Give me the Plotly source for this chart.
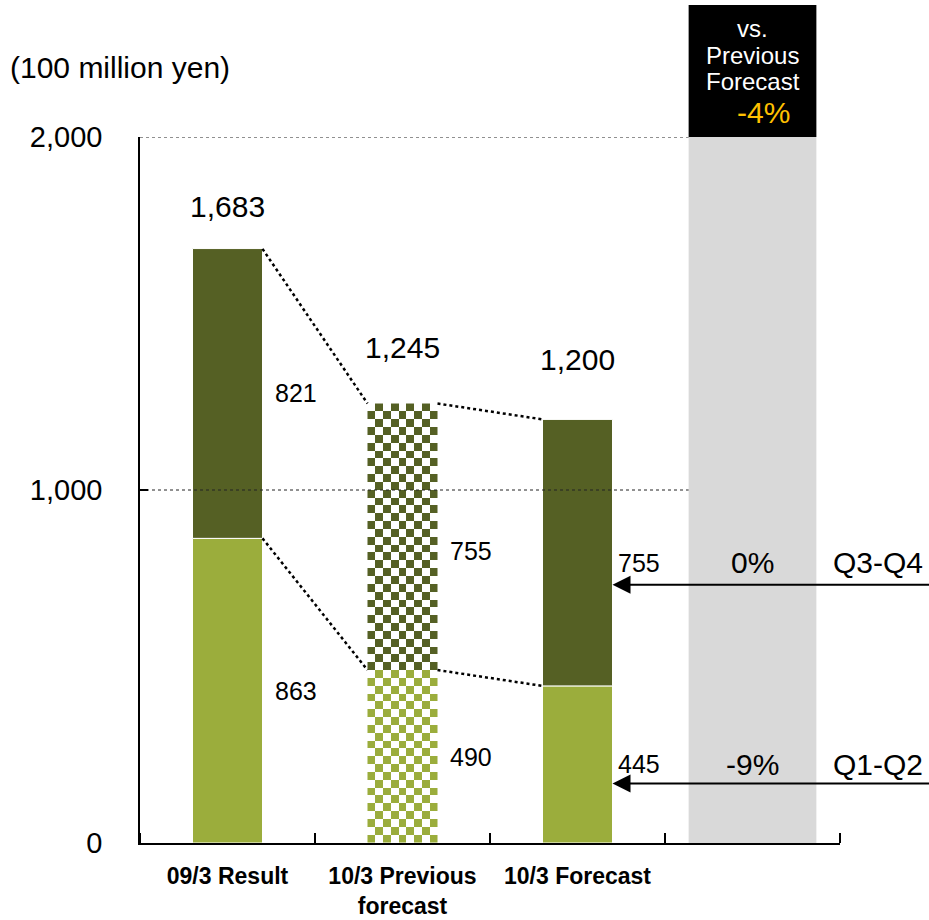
import numpy as np
import plotly.graph_objects as go

# ---------------- data ----------------
categories = ["09/3 Result", "10/3 Previous<br>forecast", "10/3 Forecast"]
q1q2 = [863, 490, 445]      # lower segment
q3q4 = [821, 755, 755]      # upper segment
totals = [1683, 1245, 1200]
y_ticks = [0, 1000, 2000]
y_max = 2000
unit_label = "(100 million yen)"
row_names = ["Q3-Q4", "Q1-Q2"]

prev_i, fc_i = 1, 2
chg_q12 = (q1q2[fc_i] - q1q2[prev_i]) / q1q2[prev_i] * 100
chg_q34 = (q3q4[fc_i] - q3q4[prev_i]) / q3q4[prev_i] * 100
chg_tot = (totals[fc_i] - totals[prev_i]) / totals[prev_i] * 100

DARK = "#556024"
LIGHT = "#9bad3c"
FONT = "Arial, Liberation Sans, sans-serif"
BW = 0.4          # bar width
GW = 0.73         # grey column width

fig = go.Figure()

# grid lines (dotted), stopping at grey column
for t in y_ticks[1:]:
    fig.add_trace(go.Scatter(x=[-0.5, 3 - GW / 2], y=[t, t], mode="lines",
                             line=dict(color="#222222", width=1, dash="dot"),
                             hoverinfo="skip", showlegend=False))

# grey comparison column
fig.add_trace(go.Bar(x=[3], y=[y_max], width=GW, marker_color="#d9d9d9",
                     marker_line_width=0, hoverinfo="skip", showlegend=False))

# solid bars (result and forecast)
solid = [0, 2]
fig.add_trace(go.Bar(x=solid, y=[q1q2[i] for i in solid], width=BW,
                     marker=dict(color=LIGHT, line=dict(color="white", width=1)),
                     showlegend=False, name="Q1-Q2"))
fig.add_trace(go.Bar(x=solid, y=[q3q4[i] for i in solid], base=[q1q2[i] for i in solid],
                     width=BW, marker=dict(color=DARK, line=dict(color="white", width=1)),
                     showlegend=False, name="Q3-Q4"))

# checkered bar for previous forecast (heatmap cells)
ncol = 9
cell_units = 22.2
n_low = int(round(q1q2[prev_i] / cell_units))
n_up = int(round(q3q4[prev_i] / cell_units))
x_edges = np.linspace(prev_i - BW / 2, prev_i + BW / 2, ncol + 1)
y_edges = np.concatenate([np.linspace(0, q1q2[prev_i], n_low + 1),
                          np.linspace(q1q2[prev_i], q1q2[prev_i] + q3q4[prev_i], n_up + 1)[1:]])
nrow = n_low + n_up
z = np.zeros((nrow, ncol))
for r in range(nrow):
    for c in range(ncol):
        if (r + c) % 2 == 0:
            z[r, c] = 1 if r < n_low else 2
fig.add_trace(go.Heatmap(x=x_edges, y=y_edges, z=z, zmin=0, zmax=2,
                         colorscale=[[0, "white"], [0.25, "white"], [0.25, LIGHT], [0.75, LIGHT],
                                     [0.75, DARK], [1, DARK]],
                         showscale=False, hoverinfo="skip"))

# dotted connectors
for i in range(2):
    for ys in (totals, q1q2):
        fig.add_trace(go.Scatter(x=[i + BW / 2, i + 1 - BW / 2], y=[ys[i], ys[i + 1]],
                                 mode="lines", line=dict(color="black", width=2.5, dash="dot"),
                                 hoverinfo="skip", showlegend=False))

ann = []
# total labels
tot_shift = [42, 56, 60]
for i, t in enumerate(totals):
    ann.append(dict(x=i, y=t, text=f"{t:,}", showarrow=False, yshift=tot_shift[i],
                    font=dict(size=30, color="black", family=FONT)))
# segment labels
seg_xshift = [10, 10, 3]
up_yshift = [0, -14, -10]
for i in range(3):
    ann.append(dict(x=i + BW / 2, y=q1q2[i] + q3q4[i] / 2, text=f"{q3q4[i]:,}", showarrow=False,
                    xanchor="left", xshift=seg_xshift[i], yshift=up_yshift[i],
                    font=dict(size=25, color="black", family=FONT)))
    ann.append(dict(x=i + BW / 2, y=q1q2[i] / 2, text=f"{q1q2[i]:,}", showarrow=False,
                    xanchor="left", xshift=seg_xshift[i],
                    font=dict(size=25, color="black", family=FONT)))

# right-side rows with arrows
rows = [(q1q2[fc_i] + q3q4[fc_i] / 2, -10, -32, chg_q34, row_names[0]),
        (q1q2[fc_i] / 2, 0, -19, chg_q12, row_names[1])]
for yv, tshift, ashift, chg, nm in rows:
    ann.append(dict(x=3, y=yv, text=f"{chg:.0f}%".replace("-0%", "0%"), showarrow=False,
                    yshift=tshift, yanchor="middle", font=dict(size=30, color="black", family=FONT)))
    ann.append(dict(x=1.121, xref="paper", y=yv, text=nm, showarrow=False, xanchor="right",
                    yanchor="middle", yshift=tshift, font=dict(size=30, color="black", family=FONT)))
    ann.append(dict(x=fc_i + BW / 2, y=yv, ax=4.05, ay=yv, axref="x", ayref="y", text="",
                    showarrow=True, arrowhead=2, arrowsize=1.8, arrowwidth=2,
                    arrowcolor="black", yshift=ashift))

# black box text
for txt, yp in [("vs.", 1.154), ("Previous", 1.116), ("Forecast", 1.078)]:
    ann.append(dict(x=3, y=yp, yref="paper", text=txt, showarrow=False, yanchor="middle",
                    font=dict(size=24, color="white", family=FONT)))
ann.append(dict(x=3, y=1.034, yref="paper", text=f"{chg_tot:.0f}%", showarrow=False, xshift=11,
                yanchor="middle", font=dict(size=30, color="#ffc000", family=FONT)))

# unit label
ann.append(dict(x=-0.189, xref="paper", y=1.098, yref="paper", text=unit_label, showarrow=False,
                xanchor="left", yanchor="middle", font=dict(size=30, color="black", family=FONT)))

fig.update_layout(
    width=929, height=920,
    margin=dict(l=140, r=89, t=137, b=77),
    paper_bgcolor="white", plot_bgcolor="white",
    barmode="overlay", showlegend=False,
    annotations=ann,
    shapes=[dict(type="rect", xref="x", yref="paper", x0=3 - GW / 2, x1=3 + GW / 2,
                 y0=1.0, y1=1.187, fillcolor="black", line=dict(width=0), layer="above")],
    xaxis=dict(range=[-0.5, 3.5], tickvals=[0, 1, 2], ticktext=categories, ticks="",
               showline=True, linecolor="black", linewidth=1.5, showgrid=False, zeroline=False,
               automargin=False,
               tickfont=dict(size=23, color="black", family="Liberation Sans Narrow, Arial Narrow, " + FONT,
                             weight="bold"),
               ticklabelstandoff=12,
               minor=dict(tickvals=[-0.5, 0.5, 1.5, 2.5, 3.5], ticks="inside", ticklen=10,
                          tickwidth=1.5, tickcolor="black", showgrid=False)),
    yaxis=dict(range=[0, y_max], tickvals=y_ticks, tickformat=",", ticks="inside", ticklen=8,
               tickwidth=1.5, tickcolor="black", showline=True, linecolor="black", linewidth=1.5,
               showgrid=False, zeroline=False, ticklabelstandoff=30, automargin=False,
               tickfont=dict(size=29, color="black", family=FONT)),
)

fig.write_html("out.html")
